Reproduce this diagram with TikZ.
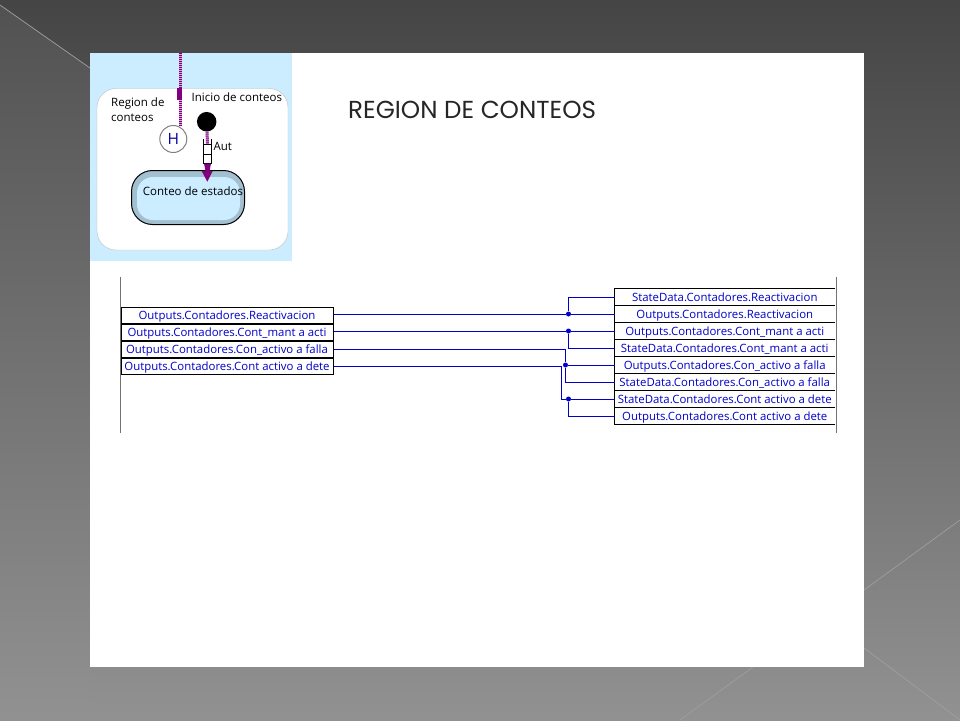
\documentclass[tikz,border=0pt]{standalone}
\usepackage{fontspec}
\setmainfont{Open Sans}
\newfontfamily\titlefont{Poppins}
\usetikzlibrary{positioning}
\definecolor{wireblue}{RGB}{0,0,200}
\definecolor{statepurple}{RGB}{128,0,128}
\definecolor{regionblue}{RGB}{204,236,255}
\definecolor{stateedge}{RGB}{163,192,208}
\tikzset{
  sigbox/.style={draw=black,line width=1pt,minimum width=212pt,minimum height=16pt,
    inner sep=0pt,text height=11pt,text depth=3pt,text=wireblue,font=\fontsize{11.4}{13}\selectfont},
  rsigbox/.style={sigbox,draw=none,minimum width=219.5pt},
  wire/.style={draw=wireblue,line width=1pt},
  junction/.style={circle,fill=wireblue,inner sep=0pt,minimum size=5pt},
  statelabel/.style={inner sep=0pt,font=\fontsize{11.5}{13}\selectfont},
  bgline/.style={draw=white!62!black,line width=.7pt},
  stipple/.style={draw=statepurple,line width=3pt,dash pattern=on 1pt off 1pt}
}
\begin{document}
\begin{tikzpicture}[x=1pt,y=-1pt]
  \useasboundingbox (0,0) rectangle (960,720);
  % background
  \shade[top color=black!73,bottom color=black!43] (0,0) rectangle (960,720);
  \shade[top color=black!68,bottom color=black!43] (0,5) -- (90,68) -- (90,720) -- (0,720) -- cycle;
  \draw[bgline] (0,5) -- (90,68);
  \draw[bgline] (960,520) -- (864,590);
  \draw[bgline] (864,648) -- (960,720);
  \draw[bgline] (753,667) -- (680,720);
  \fill[white] (90,53) rectangle (864,667);

  % state chart
  \fill[regionblue] (90,53) rectangle (292,261);
  \draw[black!25,fill=white,rounded corners=19pt] (97,88.5) rectangle (288,250);
  \node[draw=black!50,fill=white,circle,line width=1pt,minimum size=27pt,inner sep=0pt,
    text=blue!60!black,font=\fontsize{15.5}{17}\selectfont] (hist) at (173.3,139) {H};
  \draw[statepurple!35,line width=3pt] (180,53) -- (180,126);
  \draw[stipple] (180,53) -- (180,126);
  \fill[statepurple] (177.3,88) rectangle (182.3,100);
  \node[statelabel,align=left,anchor=north west] (regionlbl) at (111,97.5) {Region de\\[2pt]conteos};
  \node[statelabel,anchor=west] (iniciolbl) at (191.5,97.5) {Inicio de conteos};
  \node[draw=black,line width=1pt,fill=stateedge,rounded corners=21pt,minimum width=113pt,
    minimum height=54pt] (conteo) at (188,197.5) {};
  \node[fill=regionblue,rounded corners=16pt,minimum width=103pt,minimum height=43pt] (conteoin) at (188.5,198.5) {};
  \node[statelabel] (conteolbl) at (193,190.7) {Conteo de estados};
  \node[circle,fill=black,minimum size=19.5pt,inner sep=0pt] (inicio) at (206.7,121.7) {};
  \coordinate (boxtop) at (207.5,144.5);
  \draw[statepurple!35,line width=3pt] (inicio) -- (boxtop);
  \draw[stipple] (inicio) -- (boxtop);
  \draw[black,fill=white,line width=1pt] (203.5,144.5) rectangle (211.5,163);
  \draw[black,line width=1.5pt] (203.5,139) -- (203.5,163);
  \draw[black,line width=1.5pt] (211.5,139) -- (211.5,163);
  \draw[black,line width=1pt] (203.5,154) -- (211.5,154);
  \fill[statepurple] (204,163.5) -- (211,163.5) -- (209.5,171) -- (212.7,171) -- (207.3,181.7) -- (201.7,171) -- (205.5,171) -- cycle;
  \node[statelabel,anchor=west] (autlbl) at (213.3,146.7) {Aut};

  % title
  \node[anchor=west,inner sep=0pt,font=\titlefont\fontsize{24.6}{28}\selectfont,text=black!85] (title) at (348,110) {REGION DE CONTEOS};

  % rails
  \draw[black!55,line width=1pt] (120.5,277) -- (120.5,433);
  \draw[black!55,line width=1pt] (836,277) -- (836,433);

  % left signals
  \node[sigbox,anchor=north west] (la) at (120.5,307) {Outputs.Contadores.Reactivacion};
  \node[sigbox,below=0pt of la] (lb) {Outputs.Contadores.Cont\_mant a acti};
  \node[sigbox,below=0pt of lb] (lc) {Outputs.Contadores.Con\_activo a falla};
  \node[sigbox,below=0pt of lc] (ld) {Outputs.Contadores.Cont activo a dete};

  % right signals
  \node[rsigbox,anchor=north west] (ra) at (614.5,288.5) {StateData.Contadores.Reactivacion};
  \node[rsigbox,below=0pt of ra] (rb) {Outputs.Contadores.Reactivacion};
  \node[rsigbox,below=0pt of rb] (rc) {Outputs.Contadores.Cont\_mant a acti};
  \node[rsigbox,below=0pt of rc] (rd) {StateData.Contadores.Cont\_mant a acti};
  \node[rsigbox,below=0pt of rd] (re) {Outputs.Contadores.Con\_activo a falla};
  \node[rsigbox,below=0pt of re] (rf) {StateData.Contadores.Con\_activo a falla};
  \node[rsigbox,below=0pt of rf] (rg) {StateData.Contadores.Cont activo a dete};
  \node[rsigbox,below=0pt of rg] (rh) {Outputs.Contadores.Cont activo a dete};
  \draw[line width=1pt] (ra.north east) -- (ra.north west) -- (rh.south west) -- (rh.south east);
  \foreach \n in {ra,rb,rc,rd,re,rf,rg}
    \draw[line width=1pt] (\n.south west) -- (\n.south east);

  % wiring
  \node[junction] (ja) at (568.5,0 |- rb.west) {};
  \node[junction] (jb) at (568.5,0 |- rc.west) {};
  \node[junction] (jc) at (565.5,0 |- re.west) {};
  \node[junction] (jd) at (568.5,0 |- rg.west) {};
  \draw[wire] (la.east |- rb.west) -- (ja) -- (rb.west);
  \draw[wire] (ja) |- (ra.west);
  \draw[wire] (lb.east |- rc.west) -- (jb) -- (rc.west);
  \draw[wire] (jb) |- (rd.west);
  \draw[wire] (lc.east) -| (jc);
  \draw[wire] (jc) -- (re.west);
  \draw[wire] (jc) |- (rf.west);
  \draw[wire] (ld.east) -| (561,0 |- rg.west) -- (jd);
  \draw[wire] (jd) -- (rg.west);
  \draw[wire] (jd) |- (rh.west);
\end{tikzpicture}
\end{document}
